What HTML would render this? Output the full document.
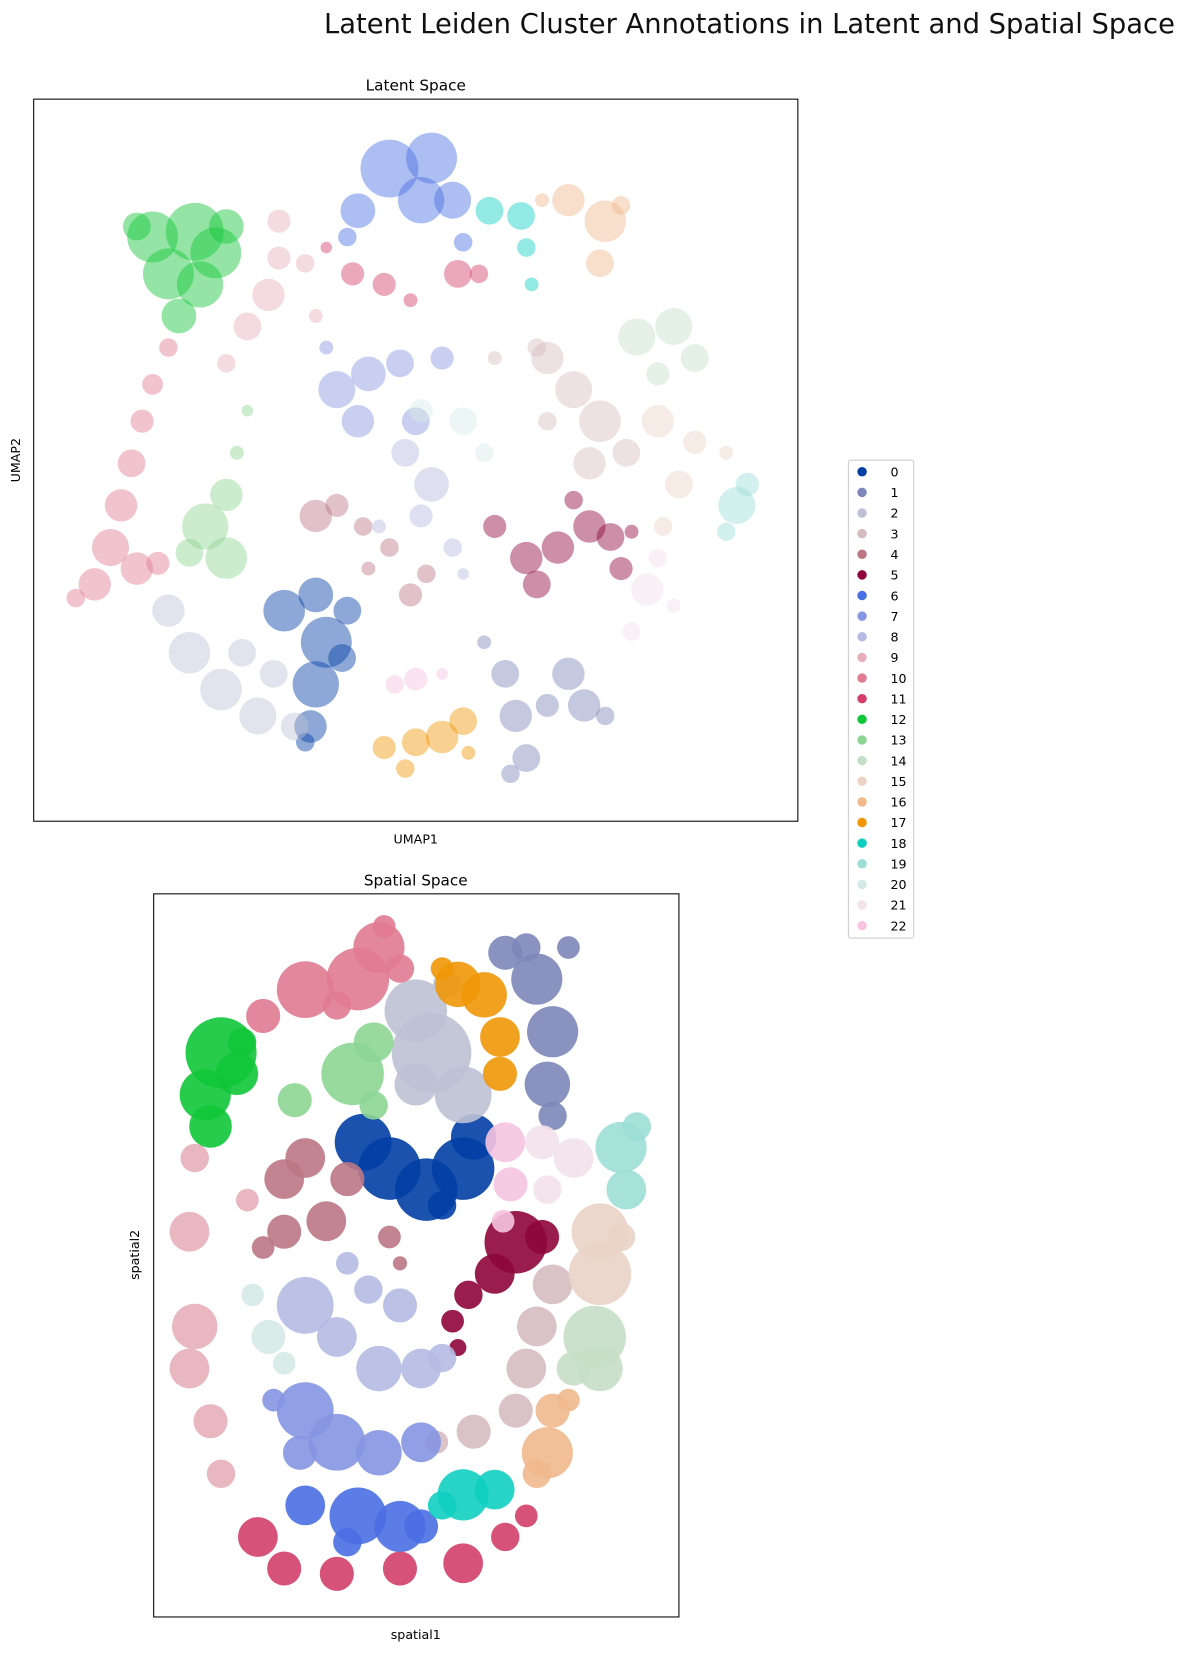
<!DOCTYPE html>
<html><head><meta charset="utf-8"><style>
body{margin:0;background:#fff;}
svg{display:block;font-family:"DejaVu Sans","Liberation Sans",sans-serif;}
</style></head><body>
<svg id="fig" width="1201" height="1674" viewBox="0 0 1141 1590" xmlns="http://www.w3.org/2000/svg">
<text x="712" y="31" font-size="26" text-anchor="middle" fill="#111">Latent Leiden Cluster Annotations in Latent and Spatial Space</text>
<text x="395" y="86" font-size="14.5" text-anchor="middle">Latent Space</text>
<g id="latentMarks"></g>
<rect x="32" y="94" width="726" height="686" fill="none" stroke="#000" stroke-width="1"/>
<text x="395" y="801" font-size="12" text-anchor="middle">UMAP1</text>
<text x="19" y="437" font-size="12" text-anchor="middle" transform="rotate(-90 19 437)">UMAP2</text>
<text x="395" y="841" font-size="14.5" text-anchor="middle">Spatial Space</text>
<g id="spatialMarks"></g>
<rect x="146" y="849" width="499" height="687" fill="none" stroke="#000" stroke-width="1"/>
<text x="395" y="1557" font-size="12" text-anchor="middle">spatial1</text>
<text x="132" y="1192" font-size="12" text-anchor="middle" transform="rotate(-90 132 1192)">spatial2</text>
<g id="legend">
<rect x="806" y="437" width="62" height="454" rx="2" fill="#fff" stroke="#ccc"/>
</g>
</svg>
<script>
const categories=["0","1","2","3","4","5","6","7","8","9","10","11","12","13","14","15","16","17","18","19","20","21","22"];
const palette=["#023fa5","#7d87b9","#bec1d4","#d6bcc0","#bb7784","#8e063b","#4a6fe3","#8595e1","#b5bbe3","#e6afb9","#e07b91","#d33f6a","#11c638","#8dd593","#c6dec7","#ead3c6","#f0b98d","#ef9708","#0fcfc0","#9cded6","#d5eae7","#f3e1eb","#f6c4e1"];
// latent blobs per cluster: [umap1, umap2, spread]
const latentBlobs={
"12":[[145,225,22],[185,220,25],[205,240,22],[160,260,22],[190,270,20],[170,300,15],[215,215,15],[130,215,12]],
"10":[[160,330,8],[145,365,9],[135,400,10],[125,440,12],[115,480,14],[105,520,16],[90,555,14],[72,568,8],[130,540,14],[150,535,10]],
"9":[[265,210,10],[265,245,10],[255,280,14],[235,310,12],[215,345,8],[290,250,8],[300,300,6]],
"13":[[235,390,5],[225,430,6],[215,470,14],[195,500,20],[215,530,18],[180,525,12]],
"2":[[160,580,14],[180,620,18],[210,655,18],[245,680,16],[280,690,12],[230,620,12],[260,640,12]],
"0":[[270,580,18],[300,565,15],[310,610,22],[300,650,20],[295,690,14],[330,580,12],[325,625,12],[290,705,8]],
"4":[[300,490,14],[320,480,10],[345,500,8],[370,520,8],[390,565,10],[405,545,8],[350,540,6]],
"8":[[385,430,12],[410,460,15],[400,490,10],[430,520,8],[440,545,5],[360,500,6]],
"7":[[320,370,16],[350,355,15],[380,345,12],[340,400,14],[395,400,12],[420,340,10],[310,330,6]],
"20":[[400,390,10],[440,400,12],[460,430,8]],
"6":[[370,160,25],[410,150,22],[400,190,20],[340,200,15],[430,190,16],[440,230,8],[330,225,8]],
"11":[[335,260,10],[365,270,10],[390,285,6],[435,260,12],[455,260,8],[310,235,5]],
"18":[[465,200,12],[495,205,12],[500,235,8],[505,270,6]],
"16":[[540,190,14],[575,210,18],[570,250,12],[590,195,8],[515,190,6]],
"3":[[520,340,14],[545,370,16],[570,400,18],[560,440,14],[595,430,12],[520,400,8],[470,340,6],[510,330,8]],
"14":[[605,320,16],[640,310,16],[660,340,12],[625,355,10]],
"15":[[625,400,14],[660,420,10],[645,460,12],[690,430,6],[630,500,8]],
"19":[[700,480,16],[710,460,10],[690,505,8]],
"21":[[615,560,14],[640,575,6],[600,600,8],[625,530,8]],
"5":[[470,500,10],[500,530,14],[530,520,14],[560,500,14],[580,510,12],[590,540,10],[510,555,12],[545,475,8],[600,505,6]],
"22":[[395,645,10],[375,650,8],[420,640,5]],
"17":[[365,710,10],[395,705,12],[420,700,14],[440,685,12],[385,730,8],[445,715,6]],
"1":[[460,610,6],[480,640,12],[490,680,14],[500,720,12],[540,640,14],[555,670,14],[575,680,8],[520,670,10],[485,735,8]]
};
// spatial blobs per cluster: [spatial1, spatial2, spread]
const spatialBlobs={
"9":[[185,1100,10],[180,1170,14],[185,1260,16],[180,1300,14],[200,1350,12],[210,1400,10],[235,1140,8]],
"12":[[210,1000,25],[195,1040,18],[200,1070,15],[225,1020,15],[230,990,10]],
"10":[[290,940,20],[340,930,22],[360,900,18],[365,880,8],[250,965,12],[320,955,10],[380,920,10]],
"2":[[395,960,22],[410,1000,28],[440,1040,20],[395,1030,15],[425,935,10]],
"13":[[335,1020,22],[355,990,14],[280,1045,12],[355,1050,10]],
"17":[[435,935,16],[460,945,16],[475,985,14],[475,1020,12],[420,920,8]],
"1":[[480,905,12],[510,930,18],[525,980,18],[520,1030,16],[500,900,10],[525,1060,10],[540,900,8]],
"0":[[345,1085,20],[370,1110,22],[405,1130,22],[440,1110,22],[450,1080,16],[420,1145,10]],
"22":[[480,1085,14],[485,1125,12],[478,1160,8]],
"21":[[515,1085,12],[545,1100,14],[520,1130,10]],
"19":[[590,1090,18],[595,1130,14],[605,1070,10]],
"4":[[270,1120,14],[290,1100,14],[310,1160,14],[270,1170,12],[250,1185,8],[330,1120,12],[370,1175,8],[380,1200,5]],
"5":[[490,1180,22],[470,1210,14],[445,1230,10],[430,1255,8],[515,1175,12],[435,1280,6]],
"15":[[570,1170,20],[570,1210,22],[590,1175,10]],
"14":[[565,1270,22],[570,1300,16],[545,1300,12]],
"3":[[525,1220,14],[510,1260,14],[500,1300,14],[490,1340,12],[450,1360,12],[415,1370,8]],
"20":[[240,1230,8],[255,1270,12],[270,1295,8]],
"8":[[290,1240,20],[320,1270,14],[360,1300,16],[380,1240,12],[400,1300,14],[420,1290,10],[350,1225,10],[330,1200,8]],
"7":[[290,1340,20],[320,1370,20],[360,1380,16],[400,1370,14],[285,1380,12],[260,1330,8]],
"16":[[525,1340,12],[520,1380,18],[510,1400,10],[540,1330,8]],
"18":[[440,1420,18],[470,1415,14],[420,1430,10]],
"6":[[290,1430,14],[340,1440,20],[380,1450,18],[400,1450,12],[330,1465,10]],
"11":[[245,1460,14],[270,1490,12],[320,1495,12],[380,1490,12],[440,1485,14],[480,1460,10],[500,1440,8]]
};
const NS="http://www.w3.org/2000/svg";
function scale(d0,d1,r0,r1){return v=>r0+(v-d0)/(d1-d0)*(r1-r0);}
const lx=scale(32,758,32,758), ly=scale(94,780,94,780);
const sx=scale(146,645,146,645), sy=scale(849,1536,849,1536);
function draw(gid,blobs,xf,yf,op,rm,tag){
  const g=document.getElementById(gid);
  Object.keys(blobs).forEach(k=>{
    const col=palette[+k];
    blobs[k].forEach((b,i)=>{
      const c=document.createElementNS(NS,"circle");
      c.setAttribute("cx",xf(b[0]));c.setAttribute("cy",yf(b[1]));c.setAttribute("r",b[2]*rm);
      c.setAttribute("fill",col);c.setAttribute("fill-opacity",op);
      
      
      g.appendChild(c);
    });
  });
}
draw("latentMarks",latentBlobs,lx,ly,0.45,1.1,"latent");
draw("spatialMarks",spatialBlobs,sx,sy,0.9,1.35,"spatial");
const lg=document.getElementById("legend");
categories.forEach((c,i)=>{
  const y=448+19.6*i;
  const m=document.createElementNS(NS,"circle");
  m.setAttribute("cx",819);m.setAttribute("cy",y);m.setAttribute("r",4.5);m.setAttribute("fill",palette[i]);
  
  
  lg.appendChild(m);
  const t=document.createElementNS(NS,"text");
  t.setAttribute("x",846);t.setAttribute("y",y+4.5);t.setAttribute("font-size",12);t.textContent=c;
  
  
  lg.appendChild(t);
});
</script>
</body></html>
